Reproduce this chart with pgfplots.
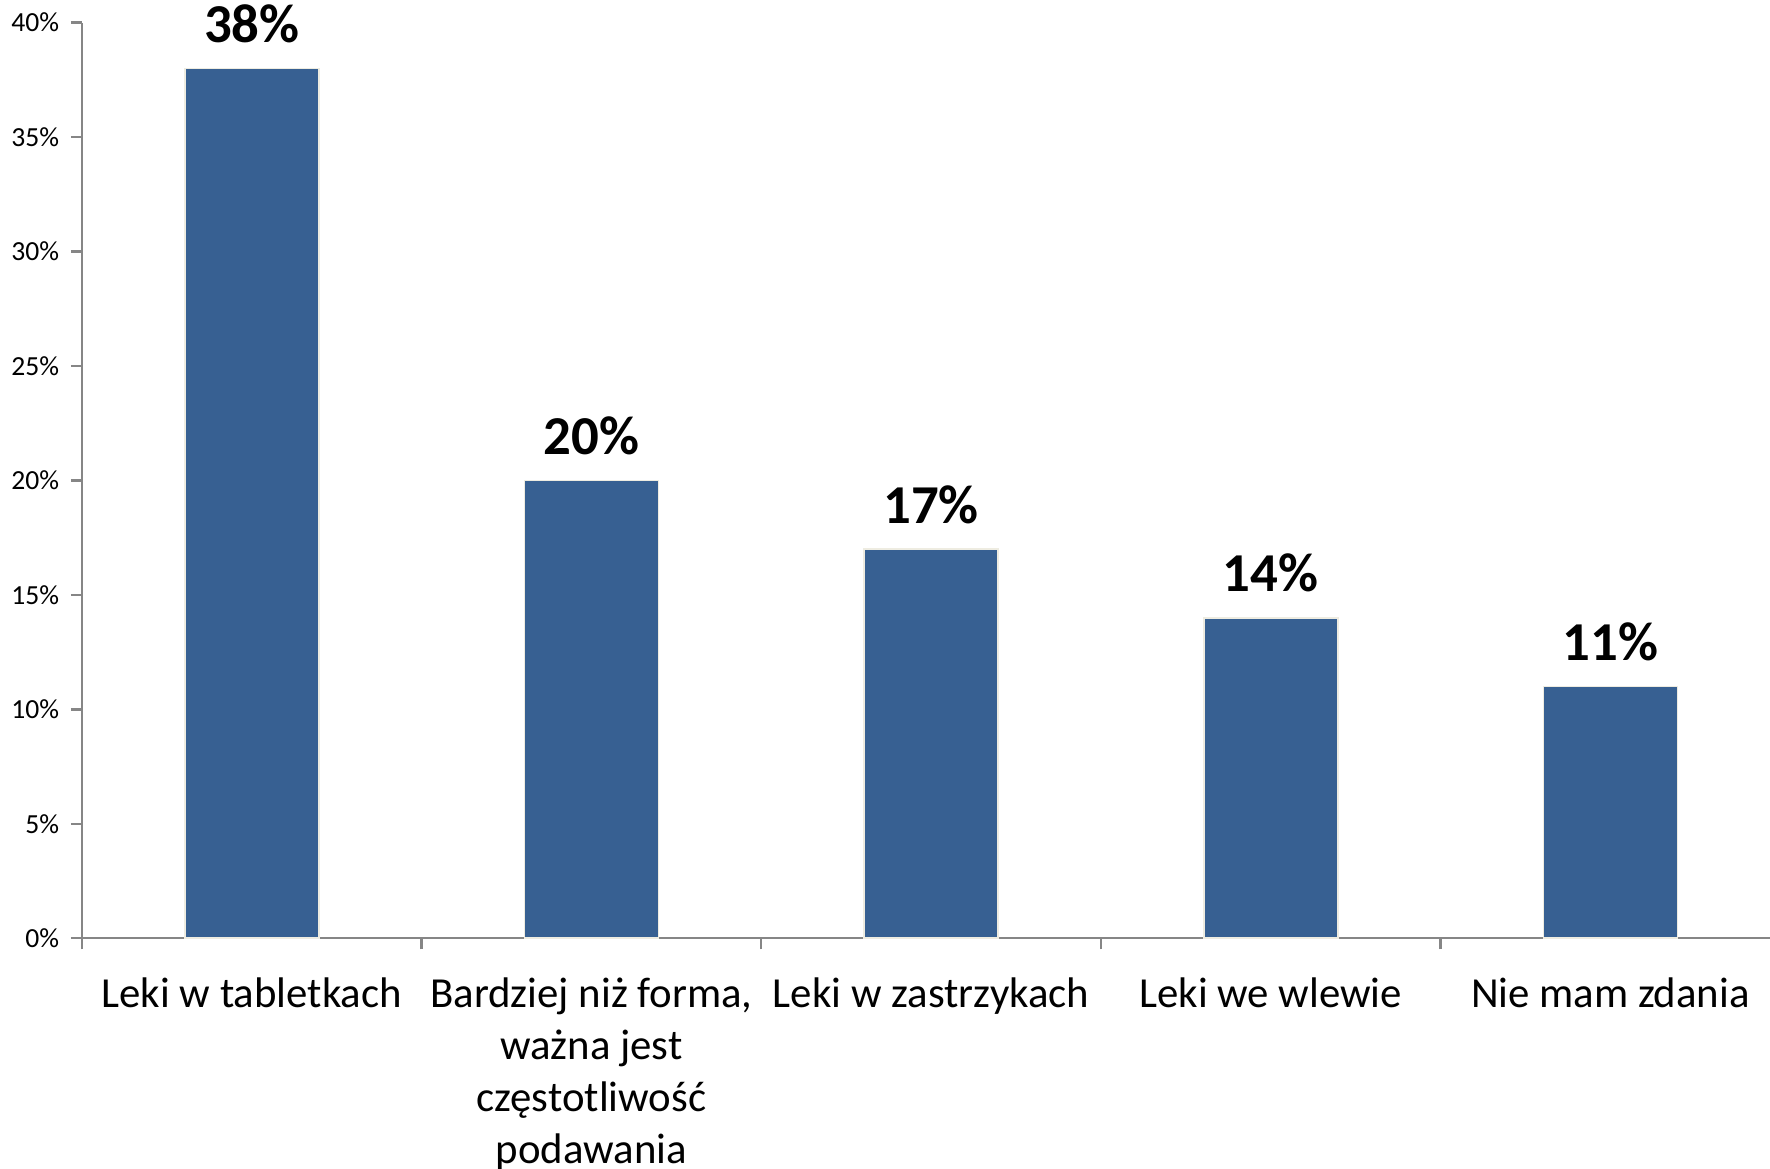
\documentclass[border=0pt]{standalone}
\usepackage{pgfplots}
\pgfplotsset{compat=1.18}
\usepackage{fontspec}
\setmainfont{Carlito}
\definecolor{barblue}{HTML}{376092}
\definecolor{axgray}{HTML}{868686}
\definecolor{baredge}{HTML}{EEECE1}
\begin{document}
\begin{tikzpicture}
\useasboundingbox (-20.5pt,-57.5pt) rectangle (422pt,234.55pt);
\begin{axis}[
  scale only axis, width=422pt, height=228.9pt,
  xmin=-0.5, xmax=4.47, ymin=0, ymax=40,
  axis x line*=bottom, axis y line*=left,
  axis line style={draw=axgray, line width=0.6pt},
  tick align=outside,
  major tick length=2.8pt,
  tick style={draw=axgray, line width=0.6pt},
  ytick={0,5,...,40},
  yticklabel={\pgfmathprintnumber{\tick}\%},
  /pgf/number format/assume math mode=true,
  yticklabel style={font=\fontsize{6.9}{8}\selectfont, text=black, xshift=0.6pt},
  xtick={-0.5,0.5,1.5,2.5,3.5},
  xticklabels={},
  extra x ticks={0,1,2,3,4},
  extra x tick labels={Leki w tabletkach, {Bardziej niż forma,\\ważna jest\\częstotliwość\\podawania}, Leki w zastrzykach, Leki we wlewie, Nie mam zdania},
  extra x tick style={major tick length=0pt, tick style={draw=none},
    xticklabel style={font=\fontsize{10.7}{13}\selectfont, align=center, anchor=north, text=black, yshift=-6.3pt}},
  ybar, bar width=33.5pt,
  nodes near coords={\pgfmathprintnumber{\pgfplotspointmeta}\%},
  nodes near coords style={font=\bfseries\fontsize{13.7}{14}\selectfont, anchor=base, yshift=6.5pt, text=black},
  clip=false
]
\addplot[fill=barblue, draw=baredge, line width=0.4pt] coordinates {(0,38) (1,20) (2,17) (3,14) (4,11)};
\end{axis}
\end{tikzpicture}
\end{document}
